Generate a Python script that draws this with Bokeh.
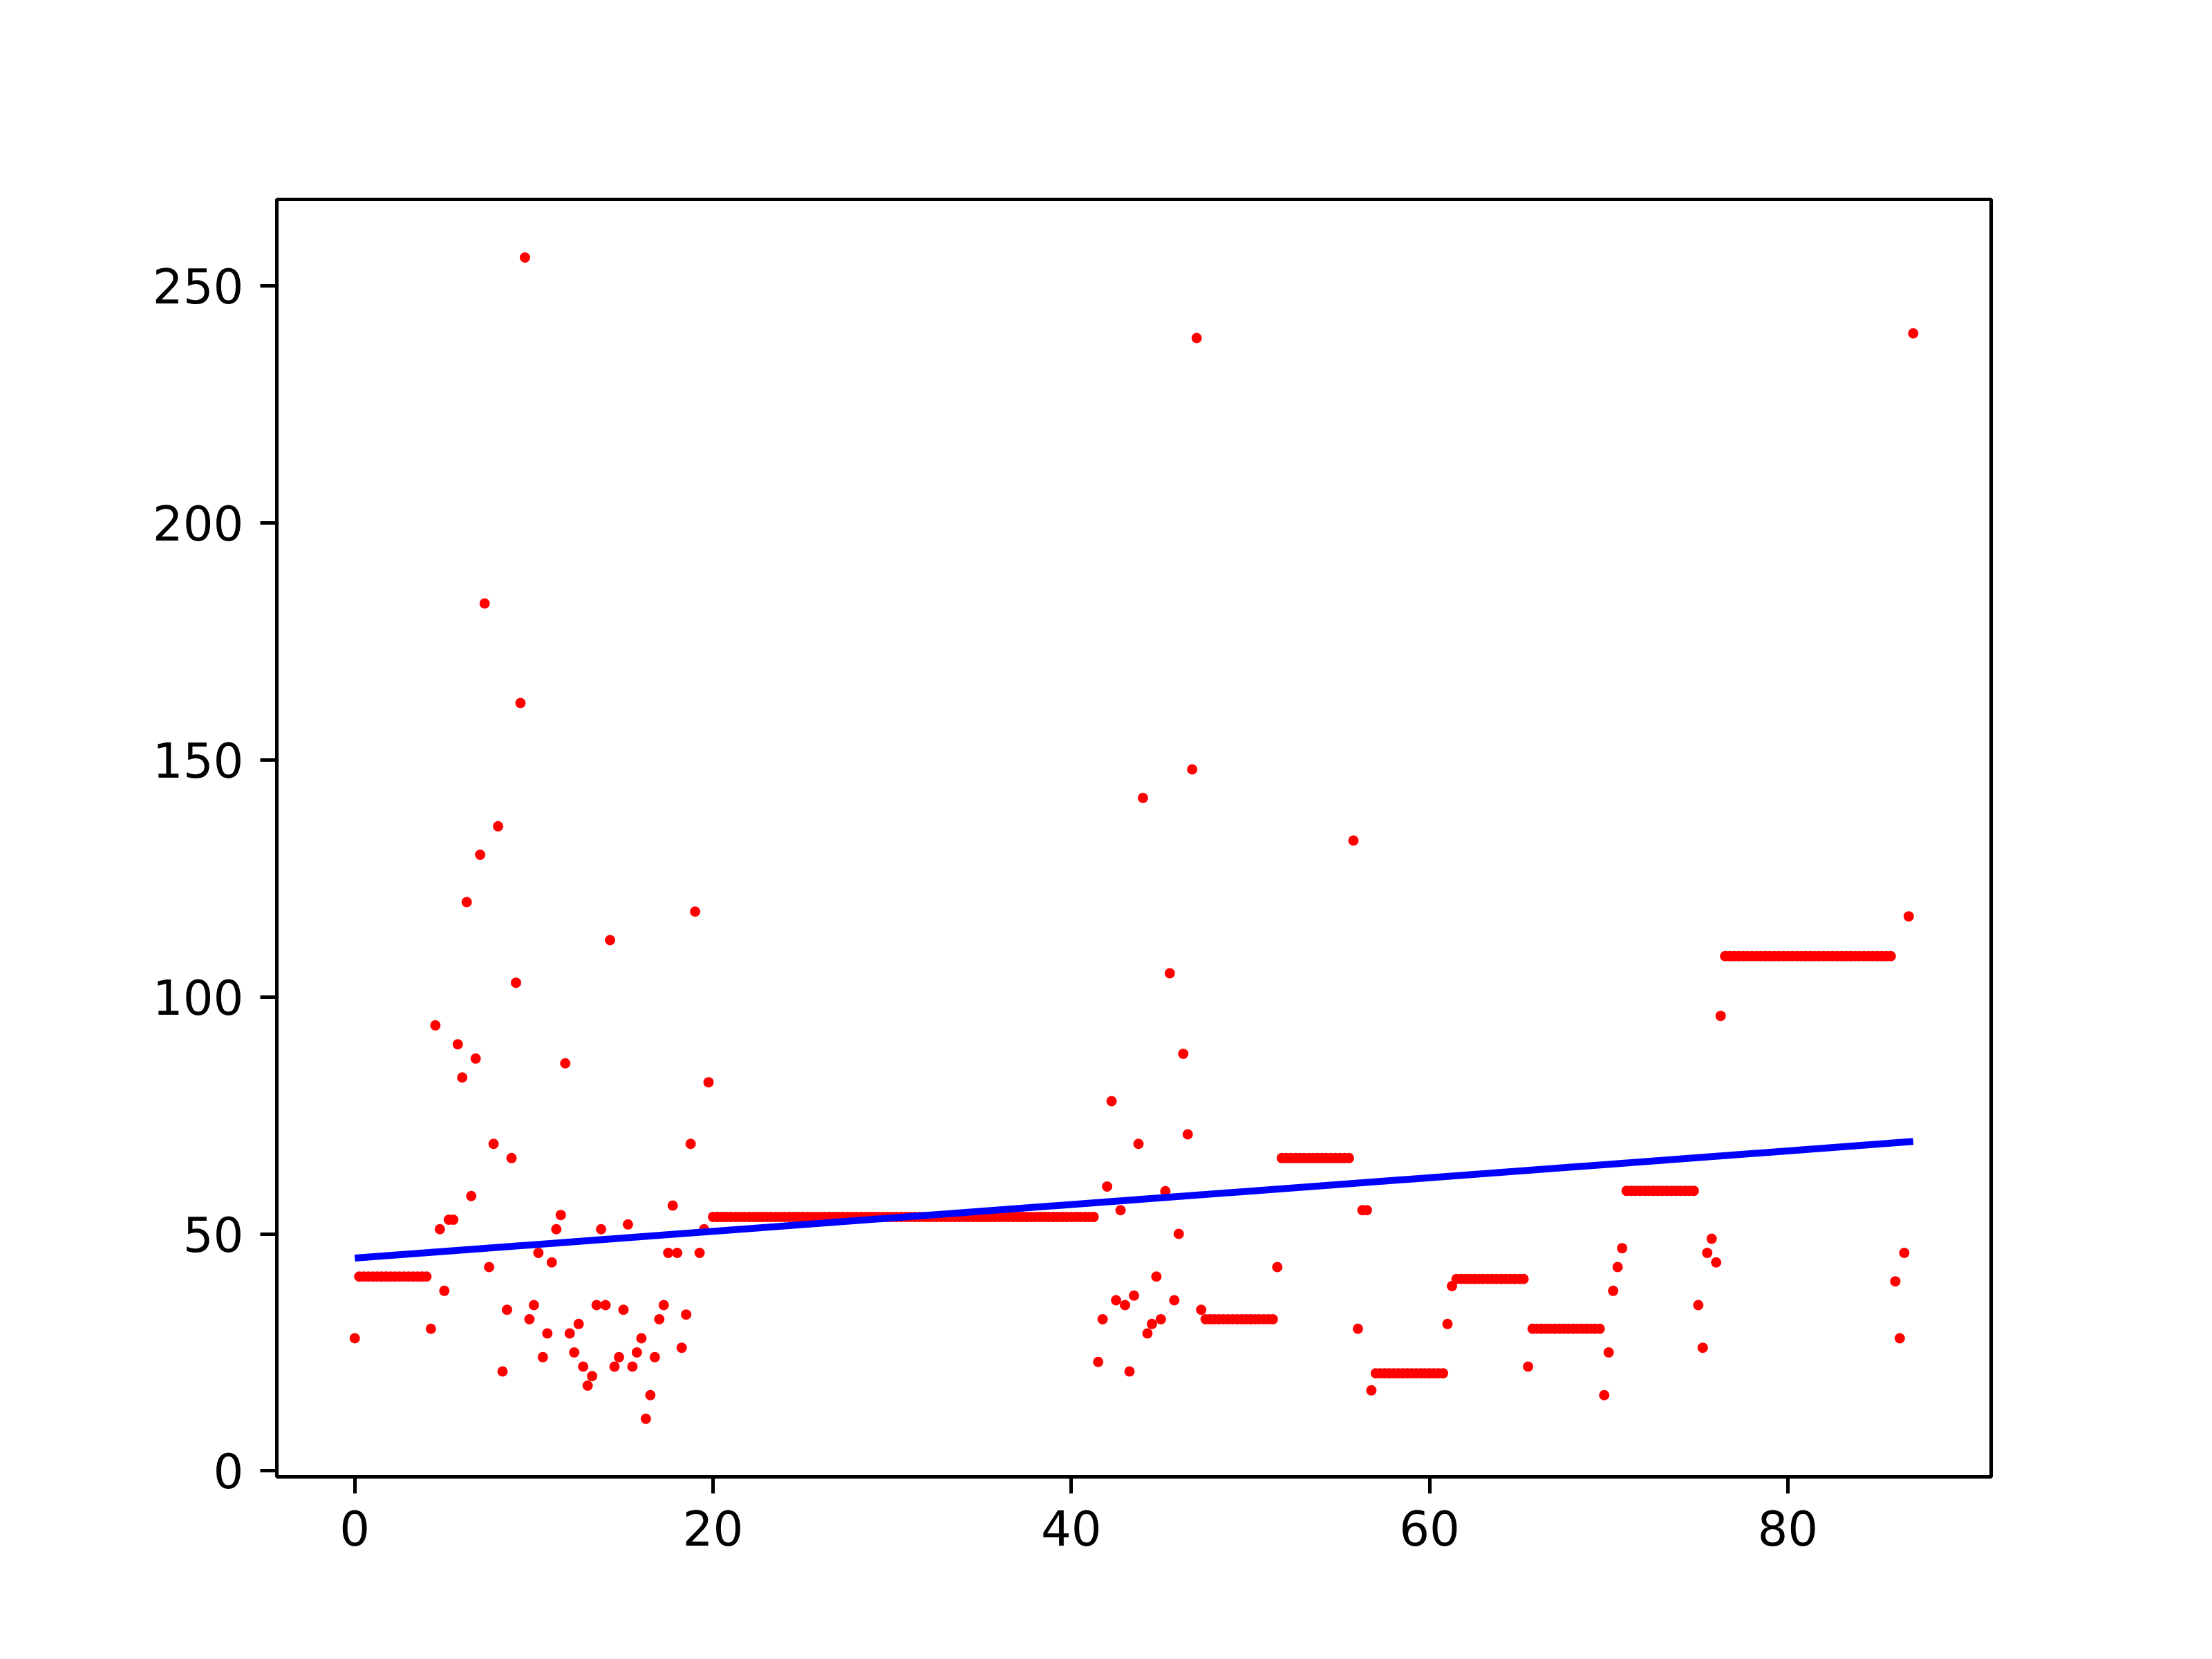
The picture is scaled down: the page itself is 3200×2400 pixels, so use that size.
from bokeh.plotting import figure
from bokeh.models import Range1d, FixedTicker, ColumnDataSource
from bokeh.embed import file_html
from bokeh.resources import INLINE

# ---- data ----
x_step = 0.25
y_values = (
    [28] + [41] * 16 +
    [30, 94, 51, 38, 53, 53, 90, 83, 120, 58, 87, 130, 183, 43, 69, 136,
     21, 34, 66, 103, 162, 256, 32, 35, 46, 24, 29, 44, 51, 54, 86, 29,
     25, 31, 22, 18, 20, 35, 51, 35, 112, 22, 24, 34, 52, 22, 25, 28,
     11, 16, 24, 32, 35, 46, 56, 46, 26, 33, 69, 118, 46, 51, 82] +
    [53.6] * 86 +
    [23, 32, 60, 78, 36, 55, 35, 21, 37, 69, 142, 29, 31, 41, 32, 59,
     105, 36, 50, 88, 71, 148, 239, 34] +
    [32] * 16 + [43] + [66] * 16 +
    [133, 30, 55, 55, 17] +
    [20.6] * 16 + [31, 39] + [40.5] * 16 + [22] + [30] * 16 +
    [16, 25, 38, 43, 47] +
    [59.1] * 16 +
    [35, 26, 46, 49, 44, 96] +
    [108.6] * 38 +
    [40, 28, 46, 117, 240]
)
x_values = [i * x_step for i in range(len(y_values))]

fit_x = [0, 87]
fit_y = [44.9, 69.5]

x_ticks = [0, 20, 40, 60, 80]
y_ticks = [0, 50, 100, 150, 200, 250]

# ---- figure ----
p = figure(
    width=3184, height=2384,
    x_range=Range1d(-4.35, 91.35), y_range=Range1d(-1.25, 268.25),
    output_backend="svg", toolbar_location=None,
    min_border_left=400, min_border_right=304,
    min_border_top=288, min_border_bottom=248,
    background_fill_color="white", border_fill_color="white",
)
p.outline_line_color = "black"
p.outline_line_width = 5
p.xgrid.visible = False
p.ygrid.visible = False

src = ColumnDataSource(dict(x=x_values, y=y_values))
p.scatter("x", "y", source=src, size=15, marker="circle",
          fill_color="red", line_color="red", line_width=0)
p.line(fit_x, fit_y, line_color="blue", line_width=10)

for ax, ticks in ((p.xaxis, x_ticks), (p.yaxis, y_ticks)):
    ax.ticker = FixedTicker(ticks=ticks)
    ax.axis_line_width = 5
    ax.axis_line_color = "black"
    ax.major_tick_line_width = 5
    ax.major_tick_out = 24
    ax.major_tick_in = 0
    ax.minor_tick_line_color = None
    ax.major_label_text_font = "DejaVu Sans"
    ax.major_label_text_font_size = "69px"
    ax.major_label_text_color = "black"
    ax.major_label_standoff = 24

open("out.html", "w").write(file_html(p, INLINE))
